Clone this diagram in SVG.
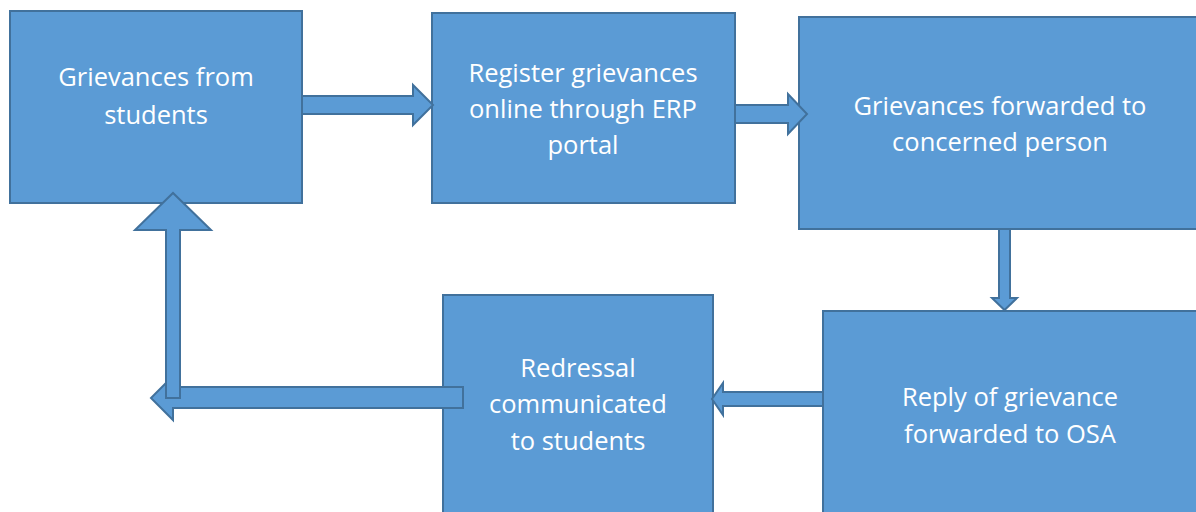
<svg xmlns="http://www.w3.org/2000/svg" width="1196" height="512" viewBox="0 0 1196 512">
<style>
.box{fill:#5B9BD5;stroke:#41719C;stroke-width:2}
.arr{fill:#5B9BD5;stroke:#41719C;stroke-width:2;stroke-linejoin:miter}
.lbl{font-family:"Open Sans","Liberation Sans",sans-serif;font-size:25.5px;fill:#FFFFFF;text-anchor:middle}
</style>
<rect width="1196" height="512" fill="#FFFFFF"/>
<g id="node-grievances">
<rect class="box" x="10" y="11" width="292" height="192"/>
<text class="lbl" x="156" y="86">Grievances from</text>
<text class="lbl" x="156" y="124">students</text>
</g>
<g id="node-register">
<rect class="box" x="432" y="13" width="303" height="190"/>
<text class="lbl" x="583" y="82">Register grievances</text>
<text class="lbl" x="583" y="118">online through ERP</text>
<text class="lbl" x="583" y="154">portal</text>
</g>
<g id="node-forwarded">
<rect class="box" x="799" y="17" width="400" height="212"/>
<text class="lbl" x="1000" y="115">Grievances forwarded to</text>
<text class="lbl" x="1000" y="151">concerned person</text>
</g>
<g id="node-reply">
<rect class="box" x="823" y="311" width="376" height="210"/>
<text class="lbl" x="1010" y="406">Reply of grievance</text>
<text class="lbl" x="1010" y="443">forwarded to OSA</text>
</g>
<g id="node-redressal">
<rect class="box" x="443" y="295" width="270" height="226"/>
<text class="lbl" x="578" y="377">Redressal</text>
<text class="lbl" x="578" y="413">communicated</text>
<text class="lbl" x="578" y="450">to students</text>
</g>
<g id="connectors">
<polygon class="arr" points="302,96 413,96 413,85 433,105 413,125 413,114 302,114"/>
<polygon class="arr" points="735,105 788,105 788,94 807,114 788,134 788,123 735,123"/>
<polygon class="arr" points="999,229 1010,229 1010,298 1017,298 1004.5,310 992,298 999,298"/>
<polygon class="arr" points="823,392 723,392 723,383 712,399 723,415 723,406 823,406"/>
<polygon class="arr" points="463,387 173,387 173,376 151,398 173,420 173,408 463,408"/>
<polygon class="arr" points="166,398 166,230 135,230 173,193 211,230 180,230 180,398"/>
</g>
</svg>
